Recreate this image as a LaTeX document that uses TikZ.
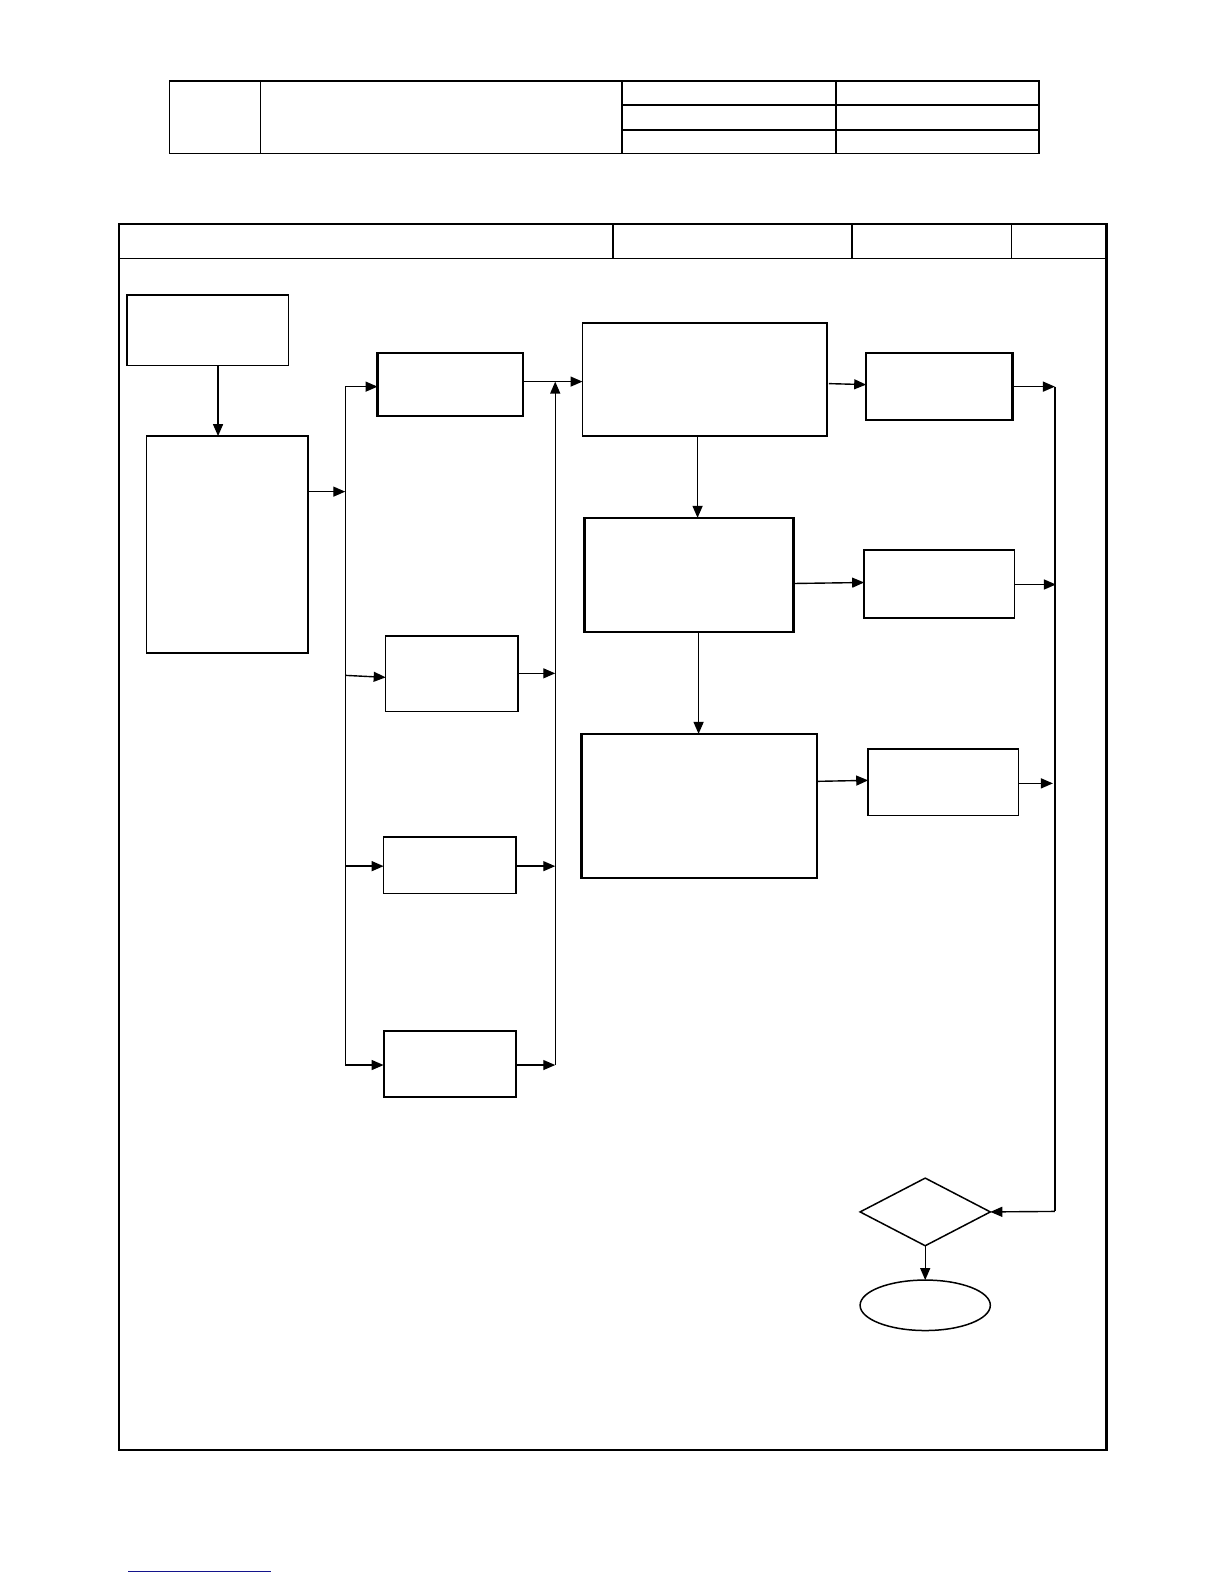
\documentclass[tikz,border=0pt]{standalone}
\usetikzlibrary{arrows.meta,shapes.geometric}
\definecolor{linkblue}{RGB}{20,20,140}
\begin{document}
\begin{tikzpicture}[x=0.50475bp,y=-0.50475bp,
  sz/.style 2 args={minimum width={#1*0.50475bp},minimum height={#2*0.50475bp}},
  box/.style={draw,rectangle,inner sep=0pt,outer sep=0pt,line width=0.75pt},
  tbox/.style={box,line width=1.1pt},
  arr/.style={-{Triangle[length=6pt,width=5pt]},line width=0.7pt},
  ln/.style={line width=0.7pt},
  rule/.style={line width=0.8pt}]
\useasboundingbox (0,0) rectangle (1212.48,1569.09);
% header table
\draw[rule] (168,80) rectangle (1029,152);
\draw[rule] (258,80) -- (258,152);
\draw[rule] (616,80) -- (616,152);
\draw[rule] (828,80) -- (828,152);
\draw[rule] (616,104) -- (1029,104);
\draw[rule] (616,129) -- (1029,129);
% frame
\draw[line width=1.1pt] (118,222) rectangle (1096,1436);
\draw[rule] (118,256) -- (1096,256);
\draw[rule] (607,222) -- (607,256);
\draw[rule] (844,222) -- (844,256);
\draw[rule] (1002,222) -- (1002,256);
% boxes
\node[box,sz={160}{70}] (A) at (206,327) {};
\node[box,sz={160}{215}] (B) at (225,539.5) {};
\node[tbox,sz={144}{62}] (C) at (446,381) {};
\node[box,sz={131}{75}] (D) at (447.5,667.5) {};
\node[box,sz={131}{56}] (E) at (445.5,857) {};
\node[tbox,sz={131}{66}] (F) at (445.5,1054) {};
\node[box,sz={242}{112}] (G) at (698,376) {};
\node[tbox,sz={207}{113}] (H) at (682.5,569.5) {};
\node[tbox,sz={233}{143}] (I) at (692.5,798.5) {};
\node[tbox,sz={145}{66}] (J) at (930.5,383) {};
\node[box,sz={149}{67}] (K) at (930.5,578.5) {};
\node[box,sz={149}{66}] (L) at (934.5,775) {};
\node[draw,diamond,inner sep=0pt,outer sep=0pt,line width=0.75pt,sz={129}{67}] (Q) at (916.5,1200.5) {};
\node[draw,ellipse,inner sep=0pt,outer sep=0pt,line width=0.75pt,sz={129}{50}] (Z) at (916.5,1293) {};
% bus coordinates
\coordinate (lb1) at (342,383);
\coordinate (lb2) at (342,487);
\coordinate (lb3) at (342,669);
\coordinate (lb4) at (342,858);
\coordinate (lb5) at (342,1055);
\coordinate (rb0) at (550,378);
\coordinate (rb2) at (550,667);
\coordinate (rb3) at (550,858);
\coordinate (rb4) at (550,1055);
\coordinate (fb1) at (1045,383);
\coordinate (fb2) at (1046,579);
\coordinate (fb3) at (1043,776);
\coordinate (fb4) at (1045,1200);
% connectors
\draw[arr] (216,0 |- A.south) -- (216,0 |- B.north);
\draw[arr] (B.east |- lb2) -- (lb2);
\draw[ln] (lb1) -- (lb5);
\draw[arr] (lb1) -- (lb1 -| C.west);
\draw[arr] (lb3) -- (382,671);
\draw[arr] (lb4) -- (lb4 -| E.west);
\draw[arr] (lb5) -- (lb5 -| F.west);
\draw[arr] (rb4) -- (rb0);
\draw[arr] (C.east |- rb0) -- (G.west |- rb0);
\draw[arr] (D.east |- rb2) -- (rb2);
\draw[arr] (E.east |- rb3) -- (rb3);
\draw[arr] (F.east |- rb4) -- (rb4);
\draw[arr] (821,380) -- (J.west |- 0,381);
\draw[arr] (691,0 |- G.south) -- (691,0 |- H.north);
\draw[arr] (H.east |- 0,578) -- (K.west |- 0,577);
\draw[arr] (692,0 |- H.south) -- (692,0 |- I.north);
\draw[arr] (I.east |- 0,774) -- (L.west |- 0,773);
\draw[arr] (J.east |- fb1) -- (fb1);
\draw[arr] (K.east |- fb2) -- (fb2);
\draw[arr] (L.east |- fb3) -- (fb3);
\draw[ln] (fb1) -- (fb4);
\draw[arr] (fb4) -- (Q.east);
\draw[arr] (Q.south) -- (Z.north);
% link underline
\draw[linkblue,line width=0.6pt] (127,1557) -- (268,1557);
\end{tikzpicture}
\end{document}
